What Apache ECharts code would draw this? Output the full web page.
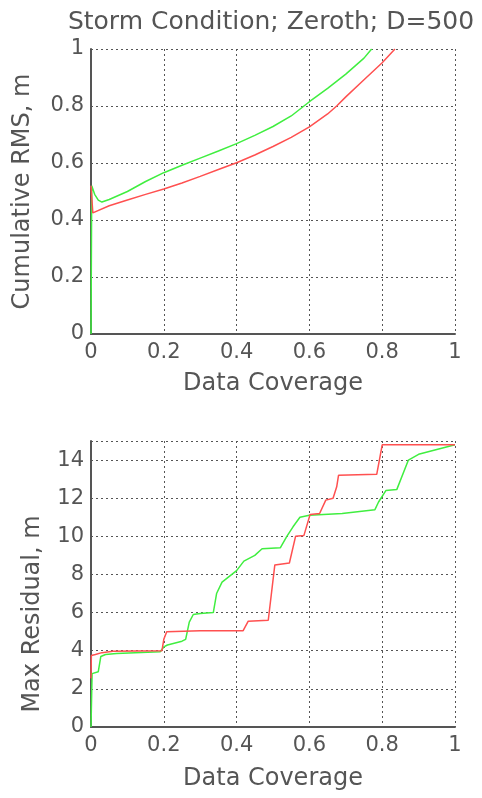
<!DOCTYPE html>
<html>
<head>
<meta charset="utf-8">
<script src="https://cdn.jsdelivr.net/npm/echarts@6/dist/echarts.min.js"></script>
<style>html,body{margin:0;padding:0;background:#fff}#c{width:482px;height:798px}</style>
</head>
<body>
<div id="c"></div>
<script>
const titleText = 'Storm Condition; Zeroth; D=500';
const xTicks = [0, 0.2, 0.4, 0.6, 0.8, 1];
const rmsTicks = [0, 0.2, 0.4, 0.6, 0.8, 1];
const residualTicks = [0, 2, 4, 6, 8, 10, 12, 14];

// Cumulative RMS (m) vs data coverage
const rmsGreen = [[0,0],[0.002,0.52],[0.01,0.49],[0.02,0.47],[0.03,0.463],[0.05,0.472],[0.1,0.50],[0.15,0.535],[0.2,0.566],[0.25,0.592],[0.3,0.617],[0.35,0.642],[0.4,0.668],[0.45,0.697],[0.5,0.728],[0.55,0.765],[0.6,0.815],[0.65,0.862],[0.7,0.912],[0.75,0.968],[0.771,1.0]];
const rmsRed = [[0,0.52],[0.005,0.425],[0.01,0.432],[0.05,0.45],[0.1,0.47],[0.15,0.49],[0.2,0.509],[0.25,0.53],[0.3,0.553],[0.35,0.577],[0.4,0.601],[0.45,0.628],[0.5,0.658],[0.55,0.69],[0.6,0.727],[0.65,0.772],[0.675,0.80],[0.7,0.832],[0.75,0.892],[0.8,0.952],[0.835,1.0]];

// Max residual (m) vs data coverage
const resGreen = [[0,0],[0.003,2.8],[0.02,2.9],[0.027,3.7],[0.04,3.8],[0.07,3.85],[0.19,3.95],[0.2,4.2],[0.21,4.3],[0.25,4.5],[0.26,4.6],[0.27,5.5],[0.281,5.9],[0.3,5.95],[0.336,6.0],[0.345,7.0],[0.36,7.6],[0.38,7.9],[0.4,8.2],[0.42,8.7],[0.45,9.0],[0.47,9.35],[0.52,9.4],[0.538,10.0],[0.555,10.5],[0.574,11.0],[0.6,11.1],[0.69,11.2],[0.78,11.4],[0.79,11.8],[0.81,12.4],[0.84,12.45],[0.872,14.0],[0.9,14.3],[0.95,14.55],[1,14.8]];
const resRed = [[0,2.55],[0.001,3.75],[0.012,3.8],[0.03,3.9],[0.06,3.97],[0.195,4.0],[0.2,4.6],[0.208,5.0],[0.3,5.05],[0.418,5.05],[0.432,5.55],[0.487,5.6],[0.505,8.5],[0.545,8.6],[0.562,10.0],[0.585,10.05],[0.602,11.15],[0.628,11.2],[0.645,11.9],[0.665,12.0],[0.675,12.6],[0.68,13.2],[0.785,13.25],[0.8,14.8],[1,14.8]];

const TXT = '#555';
const FONT = 'DejaVu Sans';
const green = '#40ee40';
const red = '#ff5050';

function xAx(gi) {
  return {
    type: 'value', gridIndex: gi, min: 0, max: 1, interval: 0.2,
    name: 'Data Coverage', nameLocation: 'middle', nameGap: gi === 0 ? 38 : 40,
    nameTextStyle: { color: TXT, fontFamily: FONT, fontSize: 24 },
    axisLine: { show: true, onZero: false, lineStyle: { color: '#555', width: 2 } },
    axisTick: { show: false },
    axisLabel: { color: TXT, fontFamily: FONT, fontSize: 21, margin: 8,
      formatter: v => xTicks.includes(+v.toFixed(4)) ? String(+v.toFixed(4)) : '' },
    splitLine: { show: true, lineStyle: { color: '#555', type: [2, 3], width: 1 } }
  };
}

const chart = echarts.init(document.getElementById('c'), null, { renderer: 'canvas' });
chart.setOption({
  backgroundColor: '#fff',
  animation: false,
  title: { text: titleText, left: 266, top: 5, textAlign: 'center',
    textStyle: { color: TXT, fontFamily: FONT, fontSize: 25, fontWeight: 'normal' } },
  grid: [
    { left: 91, top: 49, width: 364, height: 285 },
    { left: 91, top: 441, width: 364, height: 286 }
  ],
  xAxis: [xAx(0), xAx(1)],
  yAxis: [
    { type: 'value', gridIndex: 0, min: 0, max: 1, interval: 0.2,
      name: 'Cumulative RMS, m', nameLocation: 'middle', nameGap: 56, nameRotate: 90,
      nameTextStyle: { color: TXT, fontFamily: FONT, fontSize: 24 },
      axisLine: { show: true, onZero: false, lineStyle: { color: '#555', width: 2 } },
      axisTick: { show: false },
      axisLabel: { color: TXT, fontFamily: FONT, fontSize: 21, margin: 7,
        formatter: v => rmsTicks.includes(+v.toFixed(4)) ? String(+v.toFixed(4)) : '' },
      splitLine: { show: true, lineStyle: { color: '#555', type: [2, 3], width: 1 } } },
    { type: 'value', gridIndex: 1, min: 0, max: 15, interval: 2,
      name: 'Max Residual, m', nameLocation: 'middle', nameGap: 46, nameRotate: 90,
      nameTextStyle: { color: TXT, fontFamily: FONT, fontSize: 24, padding: [0, 60, 0, 0] },
      axisLine: { show: true, onZero: false, lineStyle: { color: '#555', width: 2 } },
      axisTick: { show: false },
      axisLabel: { color: TXT, fontFamily: FONT, fontSize: 21, margin: 7, showMaxLabel: false,
        formatter: v => residualTicks.includes(v) ? String(v) : '' },
      splitLine: { show: true, lineStyle: { color: '#555', type: [2, 3], width: 1 } } }
  ],
  series: [
    { type: 'line', xAxisIndex: 0, yAxisIndex: 0, data: rmsGreen, showSymbol: false, smooth: false,
      lineStyle: { color: green, width: 1.5 }, z: 3 },
    { type: 'line', xAxisIndex: 0, yAxisIndex: 0, data: rmsRed, showSymbol: false,
      lineStyle: { color: red, width: 1.5 }, z: 4 },
    { type: 'line', xAxisIndex: 1, yAxisIndex: 1, data: resGreen, showSymbol: false,
      lineStyle: { color: green, width: 1.5 }, z: 3 },
    { type: 'line', xAxisIndex: 1, yAxisIndex: 1, data: resRed, showSymbol: false,
      lineStyle: { color: red, width: 1.5 }, z: 4 }
  ]
});
</script>
</body>
</html>
